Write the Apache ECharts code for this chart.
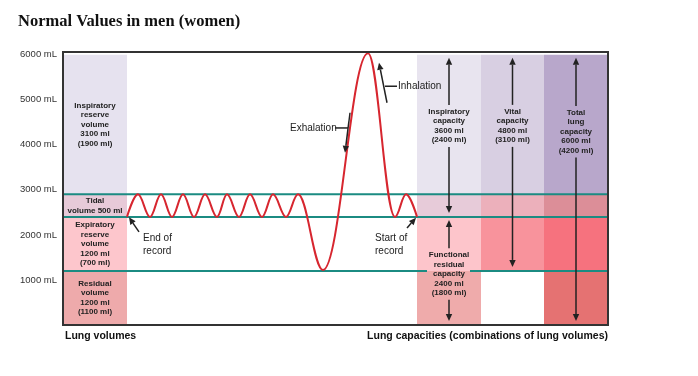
<!DOCTYPE html>
<html>
<head>
<meta charset="utf-8">
<script src="https://cdn.jsdelivr.net/npm/echarts@6/dist/echarts.min.js"></script>
<style>
  html, body { margin: 0; padding: 0; background: #fff; }
  #chart { width: 698px; height: 376px; }
</style>
</head>
<body>
<div id="chart"></div>
<script>
// lung volumes, bottom to top, men (women)
const volumeNames = ['Residual\nvolume', 'Expiratory\nreserve\nvolume', 'Tidal\nvolume', 'Inspiratory\nreserve\nvolume'];
const volumeMen = [1200, 1200, 500, 3100];
const volumeWomen = [1100, 700, null, 1900];

// lung capacities = combinations of volumes
const capacityNames = ['Inspiratory\ncapacity', 'Functional\nresidual\ncapacity', 'Vital\ncapacity', 'Total\nlung\ncapacity'];
const capacityMen = [3600, 2400, 4800, 6000];
const capacityWomen = [2400, 1800, 3100, 4200];
const capacityBase = [2400, 0, 1200, 0];

// spirometer trace, turning points only (x = time, arbitrary)
const traceX = [64, 75, 87, 98, 109, 120, 131, 142, 154, 164, 176, 187, 199, 210, 223, 235, 260, 305, 332, 343, 354];
const traceY = [2400, 2900, 2400, 2900, 2400, 2900, 2400, 2900, 2400, 2900, 2400, 2900, 2400, 2900, 2400, 2900, 1220, 6030, 2400, 2900, 2400];

const yTicks = [1000, 2000, 3000, 4000, 5000, 6000];

// layout / style
const X_MAX = 545, Y_MAX = 6060;
const columns = [[0, 64], [354, 418], [418, 481], [481, 545]]; // volumes | IC+FRC | VC | TLC
const capColumn = [1, 1, 2, 3];
const capLabelAt = [4420, 1130, 4420, 4290];
const frcGap = [364, 407];
const cellColors = [
  ['#eeaaab', '#fdc6cc', '#e7cad8', '#e6e2ef'],
  ['#efabab', '#fdc5cb', '#e7cbd9', '#e8e4ef'],
  ['#ffffff', '#f8939c', '#ecb0bb', '#d8cfe2'],
  ['#e57272', '#f6727e', '#dc8e98', '#b8a7cb']
];
const INK = '#222';
const TEAL = '#1b8b82';
const FONT = '"Liberation Sans", Arial, sans-serif';
const LH = 9.5;
const SMALL = 8;

let levels = [0];
volumeMen.forEach(v => levels.push(levels[levels.length - 1] + v));

function volumeText(i) {
  if (volumeWomen[i] == null) return volumeNames[i] + ' ' + volumeMen[i] + ' ml';
  return volumeNames[i] + '\n' + volumeMen[i] + ' ml\n(' + volumeWomen[i] + ' ml)';
}
function capacityText(i) {
  return capacityNames[i] + '\n' + capacityMen[i] + ' ml\n(' + capacityWomen[i] + ' ml)';
}

function arrow(x0, y0, x1, y1, z) {
  let dx = x1 - x0, dy = y1 - y0, len = Math.hypot(dx, dy);
  let ux = dx / len, uy = dy / len;
  let hl = 7, hw = 3.2;
  let bx = x1 - ux * hl, by = y1 - uy * hl;
  return [
    { type: 'line', z: z, shape: { x1: x0, y1: y0, x2: bx, y2: by }, style: { stroke: INK, lineWidth: 1.5 } },
    { type: 'polygon', z: z, shape: { points: [[x1, y1], [bx - uy * hw, by + ux * hw], [bx + uy * hw, by - ux * hw]] }, style: { fill: INK } }
  ];
}

let cells = [];
columns.forEach((c, ci) => {
  for (let b = 0; b < 4; b++) cells.push([c[0], c[1], levels[b], levels[b + 1], ci, b]);
});

let levelLines = [
  [[0, levels[3]], [X_MAX, levels[3]]],
  [[0, levels[2]], [X_MAX, levels[2]]],
  [[0, levels[1]], [frcGap[0], levels[1]]],
  [[frcGap[1], levels[1]], [X_MAX, levels[1]]]
];

let chart = echarts.init(document.getElementById('chart'));
let option = {
  animation: false,
  title: {
    text: 'Normal Values in men (women)',
    left: 13, top: 8,
    textStyle: { fontFamily: '"Liberation Serif", "Times New Roman", serif', fontWeight: 'bold', fontSize: 16.5, color: '#111' }
  },
  grid: { left: 63, right: 90, top: 52, bottom: 51, show: false },
  xAxis: { type: 'value', min: 0, max: X_MAX, show: false },
  yAxis: {
    type: 'value', min: 0, max: Y_MAX, interval: 1000,
    axisLine: { show: false }, axisTick: { show: false }, splitLine: { show: false },
    axisLabel: {
      margin: 6, fontSize: 9.5, color: '#333', fontFamily: FONT,
      formatter: v => yTicks.includes(v) ? v + ' mL' : ''
    }
  },
  series: [
    {
      type: 'custom', z: 1, silent: true,
      data: cells,
      renderItem(params, api) {
        let p0 = api.coord([api.value(0), api.value(3)]);
        let p1 = api.coord([api.value(1), api.value(2)]);
        let ci = api.value(4), b = api.value(5);
        let kids = [{ type: 'rect', shape: { x: p0[0], y: p0[1], width: p1[0] - p0[0], height: p1[1] - p0[1] }, style: { fill: cellColors[ci][b] } }];
        if (ci === 0) {
          kids.push({ type: 'text', style: {
            text: volumeText(b), x: (p0[0] + p1[0]) / 2, y: (p0[1] + p1[1]) / 2,
            align: 'center', verticalAlign: 'middle', fontSize: SMALL, fontWeight: 'bold', fontFamily: FONT, lineHeight: LH, fill: INK
          } });
        }
        return { type: 'group', children: kids };
      }
    },
    ...levelLines.map(seg => ({
      type: 'line', z: 3, silent: true, symbol: 'none', data: seg,
      lineStyle: { color: TEAL, width: 2 }
    })),
    {
      type: 'line', z: 5, silent: true, symbol: 'none',
      data: traceX.map((x, i) => [x, traceY[i]]),
      smooth: 0.38, smoothMonotone: 'x',
      lineStyle: { color: '#d7262f', width: 2 }
    },
    {
      type: 'custom', z: 6, silent: true,
      data: capacityMen.map((v, i) => [i]),
      renderItem(params, api) {
        let i = api.value(0);
        let col = columns[capColumn[i]];
        let xm = (col[0] + col[1]) / 2;
        let top = api.coord([xm, capacityBase[i] + capacityMen[i]]);
        let bot = api.coord([xm, capacityBase[i]]);
        let mid = api.coord([xm, capLabelAt[i]]);
        let txt = capacityText(i);
        let half = txt.split('\n').length * LH / 2;
        let kids = [{ type: 'text', style: {
          text: txt, x: mid[0], y: mid[1], align: 'center', verticalAlign: 'middle',
          fontSize: SMALL, fontWeight: 'bold', fontFamily: FONT, lineHeight: LH, fill: INK
        } }];
        kids = kids.concat(arrow(mid[0], mid[1] - half - 2, mid[0], top[1] + 3));
        kids = kids.concat(arrow(mid[0], mid[1] + half + 2, mid[0], bot[1] - 4));
        return { type: 'group', children: kids };
      }
    }
  ]
};
chart.setOption(option);

// annotations placed in data coordinates
const notes = [
  { text: 'End of\nrecord', at: [80, 1776] },
  { text: 'Start of\nrecord', at: [312, 1776] },
  { text: 'Exhalation', at: [227, 4374] },
  { text: 'Inhalation', at: [335, 5300] }
];
const noteArrows = [
  [[76, 2067], [66, 2390]],
  [[344, 2155], [353, 2378]],
  [[287, 4711], [282, 3822]],
  [[324, 4933], [316, 5822]]
];
const noteTicks = [
  [[272, 4374], [285, 4374]],
  [[322, 5300], [334, 5300]]
];

let px = p => chart.convertToPixel({ gridIndex: 0 }, p);
let g = [];
notes.forEach(n => {
  let p = px(n.at);
  g.push({ type: 'text', z: 100, style: { text: n.text, x: p[0], y: p[1], align: 'left', verticalAlign: 'middle', fontSize: 10, fontFamily: FONT, lineHeight: 12.5, fill: INK } });
});
noteArrows.forEach(a => {
  let p0 = px(a[0]), p1 = px(a[1]);
  g = g.concat(arrow(p0[0], p0[1], p1[0], p1[1], 100));
});
noteTicks.forEach(t => {
  let p0 = px(t[0]), p1 = px(t[1]);
  g.push({ type: 'line', z: 100, shape: { x1: p0[0], y1: p0[1], x2: p1[0], y2: p1[1] }, style: { stroke: INK, lineWidth: 1.5 } });
});
let c0 = px([0, 0]), c1 = px([X_MAX, Y_MAX]);
g.push({ type: 'rect', z: 100, shape: { x: c0[0], y: c1[1], width: c1[0] - c0[0], height: c0[1] - c1[1] }, style: { fill: null, stroke: '#333', lineWidth: 2 } });
g.push({ type: 'text', z: 100, style: { text: 'Lung volumes', x: c0[0] + 2, y: c0[1] + 11, align: 'left', verticalAlign: 'middle', fontSize: 10.5, fontWeight: 'bold', fontFamily: FONT, fill: '#111' } });
g.push({ type: 'text', z: 100, style: { text: 'Lung capacities (combinations of lung volumes)', x: c1[0], y: c0[1] + 11, align: 'right', verticalAlign: 'middle', fontSize: 10.5, fontWeight: 'bold', fontFamily: FONT, fill: '#111' } });
chart.setOption({ graphic: g });
</script>
</body>
</html>
